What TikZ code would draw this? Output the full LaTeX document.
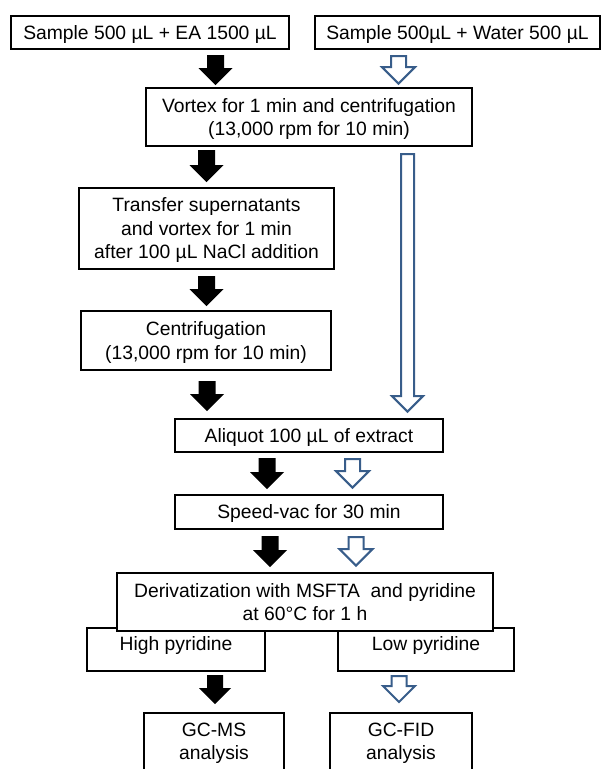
\documentclass[tikz,border=0pt]{standalone}
\usepackage{fontspec}
\setmainfont{Liberation Sans}
\definecolor{arrowblue}{RGB}{56,93,138}
\newcommand{\barrowdown}[6]{%
  \path[#1] (#2-#5,#3) -- (#2+#5,#3) -- (#2+#5,#4-#6) -- (#2+#6,#4-#6) -- (#2,#4)
    -- (#2-#6,#4-#6) -- (#2-#5,#4-#6) -- cycle;}
\tikzset{
  box/.style={draw=black, line width=2pt, fill=white, inner sep=0pt, align=center,
    font=\fontsize{19.3}{23.5}\selectfont, text height=13.9pt, text depth=0pt},
  lbl/.style={inner sep=0pt, align=center,
    font=\fontsize{19.3}{23.5}\selectfont, text height=13.9pt, text depth=0pt},
  twolines/.style={text height=37.4pt},
  threelines/.style={text height=60.9pt},
  solidarrow/.style={fill=black},
  hollowarrow/.style={draw=arrowblue, line width=2pt, fill=white, line join=miter},
}
\begin{document}
\begin{tikzpicture}[x=1pt, y=-1pt]
\useasboundingbox (0,0) rectangle (602,769);
\clip (0,0) rectangle (602,769);
\fill[white] (0,0) rectangle (602,769);

\node[box, minimum width=278pt, minimum height=33pt] (s1) at (150,32.5) {Sample 500 µL + EA 1500 µL};
\node[box, minimum width=285pt, minimum height=33pt] (s2) at (457.5,32.5) {Sample 500µL + Water 500 µL};
\node[box, twolines, minimum width=326pt, minimum height=58pt] (vortex) at (309,117) {Vortex for 1 min and centrifugation\\(13,000 rpm for 10 min)};
\node[box, threelines, minimum width=255pt, minimum height=81pt] (transfer) at (206.5,228.5) {Transfer supernatants\\and vortex for 1 min\\after 100 µL NaCl addition};
\node[box, twolines, minimum width=250pt, minimum height=59pt] (centrif) at (206,340.5) {Centrifugation\\(13,000 rpm for 10 min)};
\node[box, minimum width=268pt, minimum height=33pt] (aliquot) at (309,435.5) {Aliquot 100 µL of extract};
\node[box, minimum width=268pt, minimum height=34pt] (speedvac) at (309,512) {Speed-vac for 30 min};

\node[box, minimum width=178pt, minimum height=43pt] (high) at (176,649.5) {};
\node[box, minimum width=176pt, minimum height=43pt] (low) at (426,649.5) {};
\node[lbl] (hightext) at (176,644) {High pyridine};
\node[lbl] (lowtext) at (426,644) {Low pyridine};
\node[box, twolines, minimum width=376pt, minimum height=58pt] (deriv) at (305,602) {Derivatization with MSFTA~~and pyridine\\at 60°C for 1 h};

\node[box, minimum width=140pt, minimum height=78pt] (gcms) at (214,752) {};
\node[box, minimum width=142pt, minimum height=78pt] (gcfid) at (401,752) {};
\node[lbl, twolines] (gcmstext) at (214,741) {GC-MS\\analysis};
\node[lbl, twolines] (gcfidtext) at (401,741) {GC-FID\\analysis};

% black (EA) path arrows
\barrowdown{solidarrow}{215.5}{55}{85}{8.5}{17}
\barrowdown{solidarrow}{206.5}{150}{182}{8.5}{17}
\barrowdown{solidarrow}{206.5}{276}{306}{8.5}{17}
\barrowdown{solidarrow}{207}{381}{411}{8.5}{17}
\barrowdown{solidarrow}{267}{458}{489}{8.5}{17}
\barrowdown{solidarrow}{270}{536}{567}{8.5}{17}
\barrowdown{solidarrow}{215}{675}{704}{8}{16}

% blue (water) path arrows
\barrowdown{hollowarrow}{398.5}{56}{83.6}{7.5}{16.5}
\barrowdown{hollowarrow}{407.5}{154}{411.6}{6.5}{15.5}
\barrowdown{hollowarrow}{352.5}{459}{487.6}{7.5}{16.5}
\barrowdown{hollowarrow}{356}{537}{565.6}{7.5}{16.5}
\barrowdown{hollowarrow}{399}{676}{702}{7.5}{16}
\end{tikzpicture}
\end{document}
